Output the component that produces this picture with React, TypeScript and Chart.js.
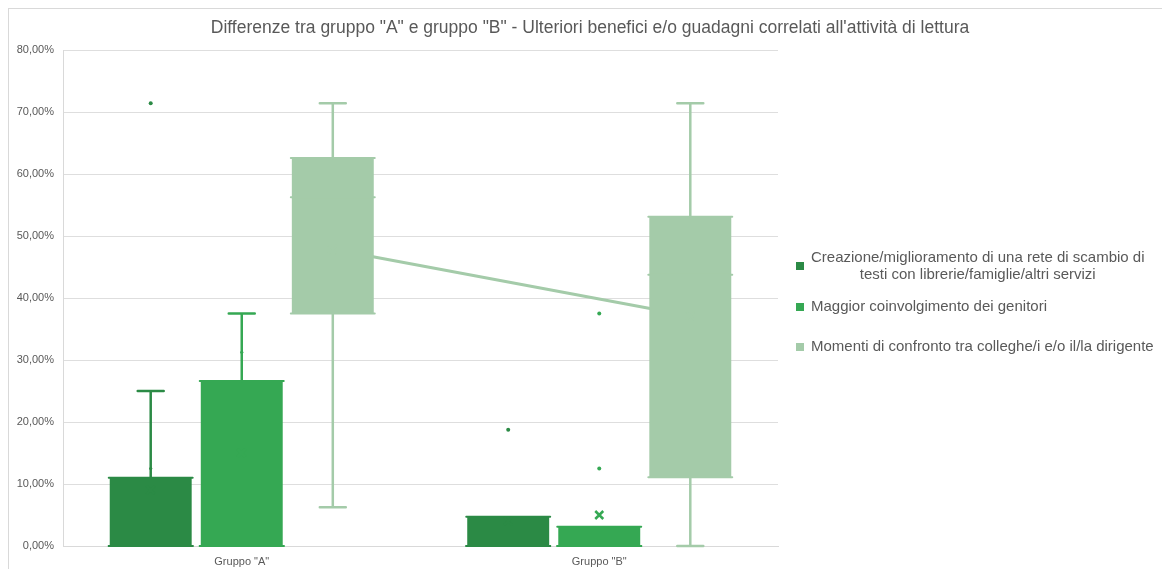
import React, { useEffect, useRef } from "react";
import { Chart, registerables } from "chart.js";

Chart.register(...registerables);

const titleText = 'Differenze tra gruppo "A" e gruppo "B" - Ulteriori benefici e/o guadagni correlati all\'attività di lettura';
const categories = ['Gruppo "A"', 'Gruppo "B"'];
const seriesNames = [
  "Creazione/miglioramento di una rete di scambio di testi con librerie/famiglie/altri servizi",
  "Maggior coinvolgimento dei genitori",
  "Momenti di confronto tra colleghe/i e/o il/la dirigente",
];
const legendLines = [
  ["Creazione/miglioramento di una rete di scambio di", "testi con librerie/famiglie/altri servizi"],
  ["Maggior coinvolgimento dei genitori"],
  ["Momenti di confronto tra colleghe/i e/o il/la dirigente"],
];
const seriesColors = ["#2b8a45", "#35a853", "#a4cba9"];
const yTicks = [0, 10, 20, 30, 40, 50, 60, 70, 80];

// Series 1: Creazione/miglioramento...
const s1Min = [0, 0];
const s1Q1 = [0, 0];
const s1Median = [0, 0];
const s1Q3 = [11.0, 4.7];
const s1Max = [25.0, 4.7];
const s1Mean = [9.0, 4.0];
const s1Outliers = [[71.43], [18.75]];
const s1Inner = [[12.5], []];

// Series 2: Maggior coinvolgimento dei genitori
const s2Min = [0, 0];
const s2Q1 = [0, 0];
const s2Median = [0, 0];
const s2Q3 = [26.6, 3.1];
const s2Max = [37.5, 3.1];
const s2Mean = [15.0, 5.0];
const s2Outliers = [[], [37.5, 12.5]];
const s2Inner = [[31.25], []];

// Series 3: Momenti di confronto...
const s3Min = [6.25, 0];
const s3Q1 = [37.5, 11.1];
const s3Median = [56.25, 43.75];
const s3Q3 = [62.6, 53.1];
const s3Max = [71.43, 71.43];
const s3Mean = [47.85, 37.1];
const s3Outliers = [[], []];
const s3Inner = [[], []];

const stats = [
  { min: s1Min, q1: s1Q1, med: s1Median, q3: s1Q3, max: s1Max, mean: s1Mean, out: s1Outliers, inner: s1Inner, meanLine: false },
  { min: s2Min, q1: s2Q1, med: s2Median, q3: s2Q3, max: s2Max, mean: s2Mean, out: s2Outliers, inner: s2Inner, meanLine: false },
  { min: s3Min, q1: s3Q1, med: s3Median, q3: s3Q3, max: s3Max, mean: s3Mean, out: s3Outliers, inner: s3Inner, meanLine: true },
];

const FONT = '"Liberation Sans", Arial, Helvetica, sans-serif';
const TEXT = "#595959";

const boxPlugin = {
  id: "boxExtras",
  beforeDatasetsDraw(chart: any) {
    const ctx = chart.ctx;
    const y = chart.scales.y;
    stats.forEach((s, di) => {
      if (!s.meanLine) return;
      const meta = chart.getDatasetMeta(di);
      ctx.save();
      ctx.strokeStyle = seriesColors[di];
      ctx.lineWidth = 3;
      ctx.beginPath();
      meta.data.forEach((bar: any, j: number) => {
        const py = y.getPixelForValue(s.mean[j]);
        if (j === 0) ctx.moveTo(bar.x, py);
        else ctx.lineTo(bar.x, py);
      });
      ctx.stroke();
      ctx.restore();
    });
  },
  afterDatasetsDraw(chart: any) {
    const ctx = chart.ctx;
    const y = chart.scales.y;
    stats.forEach((s, di) => {
      const meta = chart.getDatasetMeta(di);
      const color = seriesColors[di];
      meta.data.forEach((bar: any, j: number) => {
        const x = bar.x;
        const w = bar.width;
        ctx.save();
        ctx.strokeStyle = color;
        ctx.fillStyle = color;
        ctx.lineCap = "round";
        ctx.lineWidth = 2.5;
        const cap = 13;
        if (s.max[j] > s.q3[j]) {
          const yt = y.getPixelForValue(s.max[j]);
          const yb = y.getPixelForValue(s.q3[j]);
          ctx.beginPath();
          ctx.moveTo(x, yb);
          ctx.lineTo(x, yt);
          ctx.moveTo(x - cap, yt);
          ctx.lineTo(x + cap, yt);
          ctx.stroke();
        }
        if (s.min[j] < s.q1[j]) {
          const yt = y.getPixelForValue(s.q1[j]);
          const yb = y.getPixelForValue(s.min[j]);
          ctx.beginPath();
          ctx.moveTo(x, yt);
          ctx.lineTo(x, yb);
          ctx.moveTo(x - cap, yb);
          ctx.lineTo(x + cap, yb);
          ctx.stroke();
        }
        ctx.lineWidth = 2;
        [s.q1[j], s.med[j], s.q3[j]].forEach((v) => {
          const py = y.getPixelForValue(v);
          ctx.beginPath();
          ctx.moveTo(x - w / 2 - 1, py);
          ctx.lineTo(x + w / 2 + 1, py);
          ctx.stroke();
        });
        s.inner[j].forEach((v: number) => {
          ctx.beginPath();
          ctx.arc(x, y.getPixelForValue(v), 1.6, 0, Math.PI * 2);
          ctx.fill();
        });
        s.out[j].forEach((v: number) => {
          ctx.beginPath();
          ctx.arc(x, y.getPixelForValue(v), 2, 0, Math.PI * 2);
          ctx.fill();
        });
        const my = y.getPixelForValue(s.mean[j]);
        const r = 4;
        ctx.lineWidth = 2.5;
        ctx.lineCap = "butt";
        ctx.beginPath();
        ctx.moveTo(x - r, my - r);
        ctx.lineTo(x + r, my + r);
        ctx.moveTo(x + r, my - r);
        ctx.lineTo(x - r, my + r);
        ctx.stroke();
        ctx.restore();
      });
    });
  },
  afterDraw(chart: any) {
    const ctx = chart.ctx;
    ctx.save();
    ctx.font = `17.5px ${FONT}`;
    ctx.fillStyle = TEXT;
    ctx.textAlign = "center";
    ctx.textBaseline = "middle";
    ctx.fillText(titleText, 581, 19);
    ctx.font = `15px ${FONT}`;
    const textLeft = 802;
    const lineH = 17;
    const itemCenters = [257, 298, 338];
    legendLines.forEach((lines, i) => {
      const cy = itemCenters[i];
      ctx.fillStyle = seriesColors[i];
      ctx.fillRect(787, cy - 4, 8, 8);
      ctx.fillStyle = TEXT;
      const maxW = Math.max(...lines.map((l) => ctx.measureText(l).width));
      const top = cy - ((lines.length - 1) * lineH) / 2;
      lines.forEach((l, k) => {
        ctx.textAlign = "center";
        ctx.fillText(l, textLeft + maxW / 2, top + k * lineH);
      });
    });
    ctx.restore();
  },
};

export default function App() {
  const ref = useRef<HTMLCanvasElement>(null);
  useEffect(() => {
    if (!ref.current) return;
    const chart = new Chart(ref.current, {
      type: "bar",
      data: {
        labels: categories,
        datasets: seriesNames.map((name, i) => ({
          label: name,
          data: categories.map((_, j) => [stats[i].q1[j], stats[i].q3[j]]),
          backgroundColor: seriesColors[i],
          borderWidth: 0,
          categoryPercentage: 0.764,
          barPercentage: 0.9,
        })),
      },
      options: {
        animation: false,
        responsive: false,
        layout: { padding: { top: 41, right: 384, bottom: 0, left: 0 } },
        plugins: {
          legend: { display: false },
          title: { display: false },
          tooltip: { enabled: false },
        },
        scales: {
          x: {
            grid: { display: false, drawTicks: false },
            border: { display: true, color: "#d9d9d9" },
            ticks: { color: TEXT, font: { family: FONT, size: 11 }, padding: 9 },
            afterFit: (s: any) => {
              s.height = 23;
            },
          },
          y: {
            min: 0,
            max: 80,
            afterBuildTicks: (s: any) => {
              s.ticks = yTicks.map((v) => ({ value: v }));
            },
            grid: { color: "#dedede", lineWidth: 1, drawTicks: false },
            border: { display: true, color: "#d9d9d9" },
            ticks: {
              color: TEXT,
              font: { family: FONT, size: 11 },
              padding: 9,
              callback: (v: any) => Number(v).toFixed(2).replace(".", ",") + "%",
            },
            afterFit: (s: any) => {
              s.width = 54;
            },
          },
        },
      },
      plugins: [boxPlugin],
    });
    return () => chart.destroy();
  }, []);
  return (
    <div
      style={{
        position: "absolute",
        left: 8,
        top: 8,
        width: 1154,
        height: 561,
        borderLeft: "1px solid #d9d9d9",
        borderTop: "1px solid #d9d9d9",
        boxSizing: "border-box",
        background: "#fff",
      }}
    >
      <canvas ref={ref} width={1153} height={560} style={{ display: "block" }} />
    </div>
  );
}
